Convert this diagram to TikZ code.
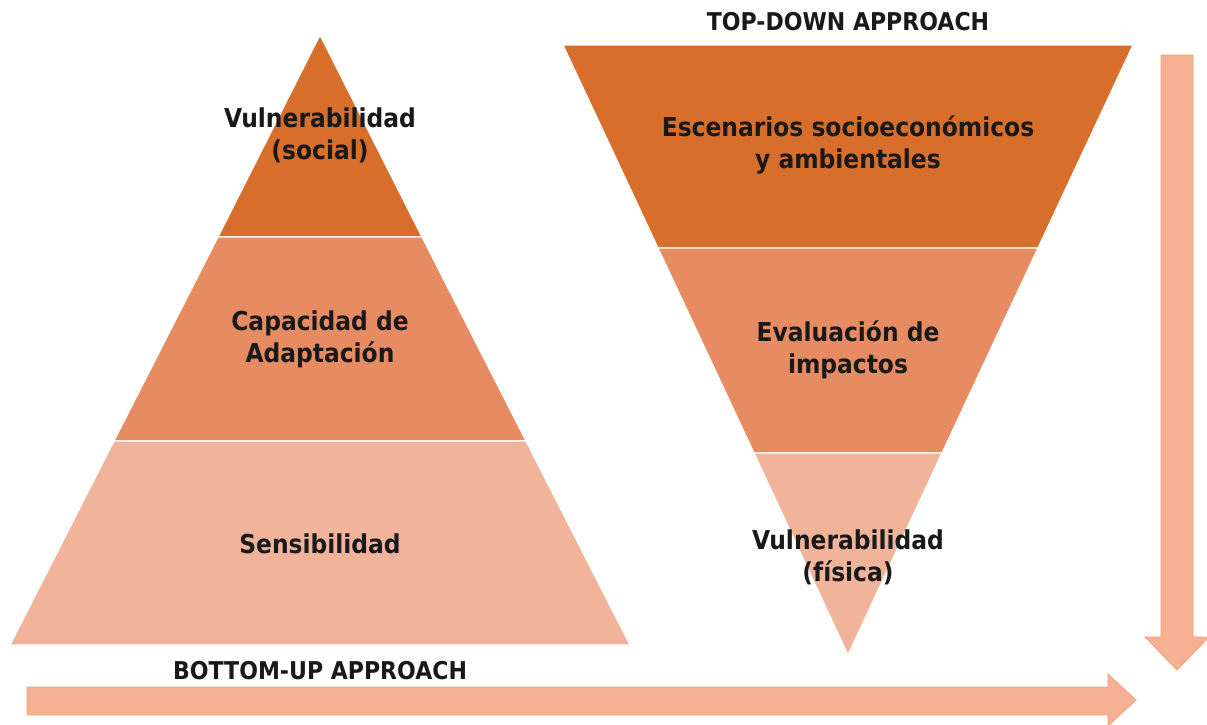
\documentclass[tikz,border=0pt]{standalone}
\usepackage{fontspec}
\setmainfont{DejaVu Sans Condensed}[BoldFont={DejaVu Sans Condensed Bold}]
\definecolor{cdark}{HTML}{D86E2C}
\definecolor{cmid}{HTML}{E68B62}
\definecolor{clight}{HTML}{F2B39B}
\definecolor{carrow}{HTML}{F6B092}
\definecolor{carrowb}{HTML}{F3A27C}
\tikzset{
  layer/.style={draw=white, line width=1.2pt, line join=miter},
  lbl/.style={font=\fontsize{26}{32}\selectfont\bfseries, align=center, text=black!90, inner sep=0pt},
  hdr/.style={font=\fontsize{24.5}{28}\selectfont\bfseries, text=black!90, inner sep=0pt},
  bigarrow/.style={fill=carrow, draw=carrowb, line width=0.8pt}
}
\begin{document}
\begin{tikzpicture}[x=1pt,y=-1pt]
\useasboundingbox (0,0) rectangle (1207,724);
% left pyramid
\fill[cdark,layer] (320,35) -- (422,237) -- (218,237) -- cycle;
\fill[cmid,layer] (218,237) -- (422,237) -- (526,441) -- (114,441) -- cycle;
\fill[clight,layer] (114,441) -- (526,441) -- (630,645) -- (10,645) -- cycle;
% inverted pyramid
\fill[cdark,layer] (563,45) -- (1133,45) -- (1038,248) -- (658,248) -- cycle;
\fill[cmid,layer] (658,248) -- (1038,248) -- (942,453) -- (754,453) -- cycle;
\fill[clight,layer] (754,453) -- (942,453) -- (848,655) -- cycle;
% arrows
\draw[bigarrow] (1161,55) -- (1193,55) -- (1193,637) -- (1209,637) -- (1177,670) -- (1145,637) -- (1161,637) -- cycle;
\draw[bigarrow] (27,687) -- (1108,687) -- (1108,674) -- (1136,700) -- (1108,726) -- (1108,715) -- (27,715) -- cycle;
% labels
\node[lbl] (vs) at (320,135) {Vulnerabilidad\\(social)};
\node[lbl] (ca) at (320,339) {Capacidad de\\Adaptación};
\node[lbl] (se) at (320,544) {Sensibilidad};
\node[lbl] (es) at (848,145) {Escenarios socioeconómicos\\y ambientales};
\node[lbl] (ev) at (848,350) {Evaluación de\\impactos};
\node[lbl] (vf) at (848,557) {Vulnerabilidad\\(física)};
\node[hdr] (td) at (848,22) {TOP-DOWN APPROACH};
\node[hdr] (bu) at (320,671) {BOTTOM-UP APPROACH};
\end{tikzpicture}
\end{document}
